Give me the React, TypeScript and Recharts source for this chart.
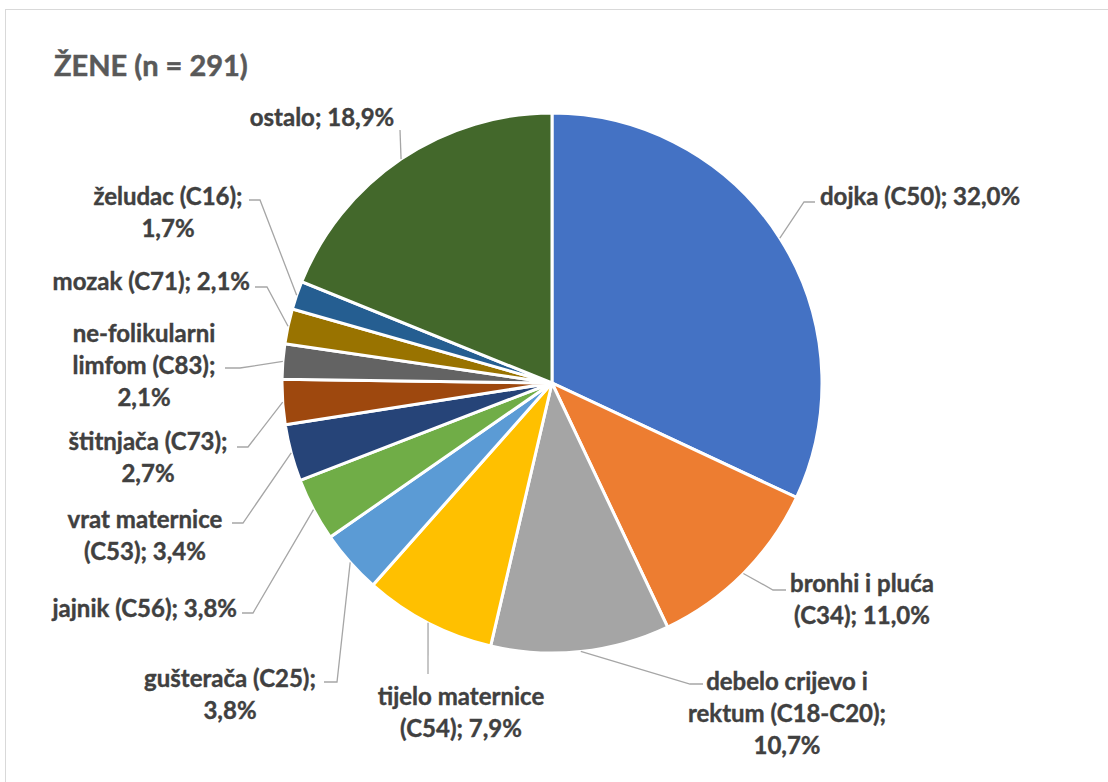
import React from "react";
import { PieChart, Pie, Cell } from "recharts";

const categories = [
  "dojka (C50)",
  "bronhi i pluća (C34)",
  "debelo crijevo i rektum (C18-C20)",
  "tijelo maternice (C54)",
  "gušterača (C25)",
  "jajnik (C56)",
  "vrat maternice (C53)",
  "štitnjača (C73)",
  "ne-folikularni limfom (C83)",
  "mozak (C71)",
  "želudac (C16)",
  "ostalo",
];
const values = [32.0, 11.0, 10.7, 7.9, 3.8, 3.8, 3.4, 2.7, 2.1, 2.1, 1.7, 18.9];
const colors = [
  "#4472C4",
  "#ED7D31",
  "#A5A5A5",
  "#FFC000",
  "#5B9BD5",
  "#70AD47",
  "#264478",
  "#9E480E",
  "#636363",
  "#997300",
  "#255E91",
  "#43682B",
];
const title = "ŽENE (n = 291)";

// label layout (relative to pie centre): elbow point, end point, text position, anchor, words per line
const labelLayout = [
  { ex: 252, ey: -181, tx2: 263, x: 268, y: -188, anchor: "start", words: [3] },
  { ex: 221, ey: 207, tx2: 234, x: 310, y: 199, anchor: "middle", words: [3, 2] },
  { ex: 138, ey: 301, tx2: 151, x: 235, y: 297, anchor: "middle", words: [3, 2, 1] },
  { ex: -124, ey: 291, tx2: -124, x: -91, y: 312, anchor: "middle", words: [2, 2] },
  { ex: -215, ey: 299, tx2: -228, x: -322, y: 294, anchor: "middle", words: [2, 1] },
  { ex: -299, ey: 230, tx2: -310, x: -315, y: 224, anchor: "end", words: [3] },
  { ex: -309, ey: 140, tx2: -320, x: -407, y: 135, anchor: "middle", words: [2, 2] },
  { ex: -304, ey: 64, tx2: -315, x: -404, y: 57, anchor: "middle", words: [2, 1] },
  { ex: -312, ey: -15, tx2: -327, x: -408, y: -51, anchor: "middle", words: [1, 2, 1] },
  { ex: -285, ey: -96, tx2: -297, x: -302, y: -103, anchor: "end", words: [3] },
  { ex: -292, ey: -183, tx2: -303, x: -384, y: -188, anchor: "middle", words: [2, 1] },
  { ex: -152, ey: -253, tx2: -152, x: -230, y: -267, anchor: "middle", words: [2] },
];

const data = categories.map((name, i) => ({ name, value: values[i] }));

const fmt = (v: number) => v.toFixed(1).replace(".", ",") + "%";
const RADIAN = Math.PI / 180;
const LINE_H = 32;

function PieLabel(props: any) {
  const { cx, cy, midAngle, outerRadius, index } = props;
  const L = labelLayout[index];
  if (!L) return null;
  const sx = cx + outerRadius * Math.cos(-midAngle * RADIAN);
  const sy = cy + outerRadius * Math.sin(-midAngle * RADIAN);
  const text = `${categories[index]}; ${fmt(values[index])}`;
  const words = text.split(" ");
  const lines: string[] = [];
  let k = 0;
  for (const n of L.words) {
    lines.push(words.slice(k, k + n).join(" "));
    k += n;
  }
  return (
    <g>
      <polyline
        points={`${sx},${sy} ${cx + L.ex},${cy + L.ey} ${cx + L.tx2},${cy + L.ey}`}
        fill="none"
        stroke="#A6A6A6"
        strokeWidth={1.3}
      />
      <text
        textAnchor={L.anchor}
        fill="#404040"
        stroke="#404040"
        strokeWidth={0.4}
        fontFamily="Lato, 'Open Sans', sans-serif"
        fontWeight={700}
        fontSize={24}
      >
        {lines.map((ln, i) => (
          <tspan key={i} x={cx + L.x} y={cy + L.y + i * LINE_H} dominantBaseline="central">
            {ln}
          </tspan>
        ))}
      </text>
    </g>
  );
}

export default function App() {
  return (
    <div
      style={{
        position: "absolute",
        left: 0,
        top: 0,
        width: 1108,
        height: 782,
        background: "#fff",
        overflow: "hidden",
      }}
    >
      <div
        style={{
          position: "absolute",
          left: 5,
          top: 9,
          width: 1120,
          height: 800,
          border: "1.5px solid #D9D9D9",
          boxSizing: "border-box",
        }}
      />
      <div
        style={{
          position: "absolute",
          left: 54,
          top: 47,
          fontFamily: "Lato, 'Open Sans', sans-serif",
          fontWeight: 700,
          fontSize: 29,
          color: "#595959",
          lineHeight: "36px",
          whiteSpace: "nowrap",
          WebkitTextStroke: "0.5px #595959",
        }}
      >
        {title}
      </div>
      <div style={{ position: "absolute", left: 0, top: 0 }}>
        <PieChart width={1108} height={782} margin={{ top: 0, right: 0, bottom: 0, left: 0 }}>
          <Pie
            data={data}
            dataKey="value"
            nameKey="name"
            cx={552}
            cy={383}
            outerRadius={270}
            startAngle={90}
            endAngle={-270}
            stroke="#FFFFFF"
            strokeWidth={3}
            isAnimationActive={false}
            labelLine={false}
            label={(p: any) => <PieLabel {...p} />}
          >
            {data.map((d, i) => (
              <Cell key={d.name} fill={colors[i]} />
            ))}
          </Pie>
        </PieChart>
      </div>
    </div>
  );
}
